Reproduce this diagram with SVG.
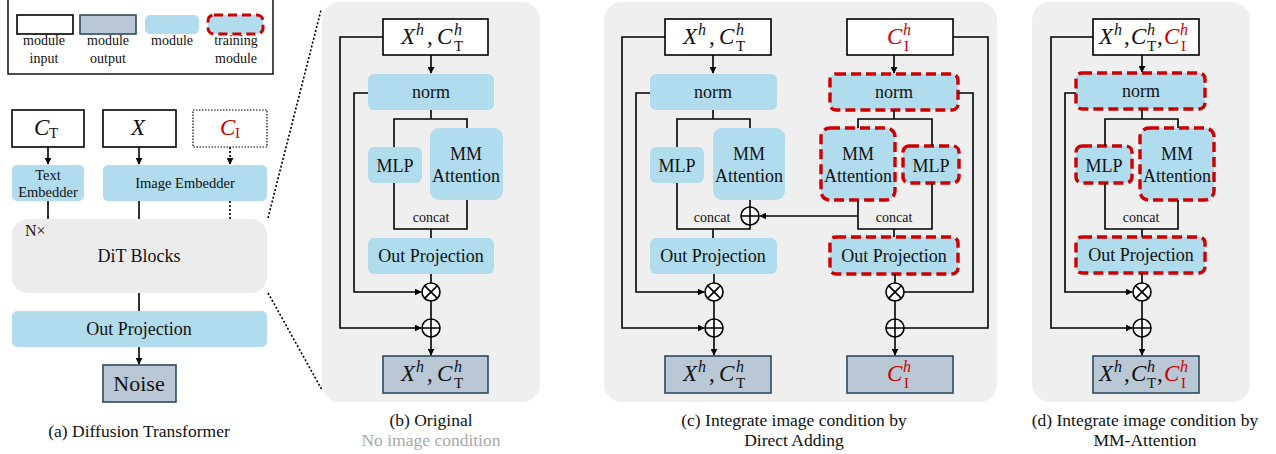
<svg xmlns="http://www.w3.org/2000/svg" width="1276" height="454" viewBox="0 0 1276 454" font-family="'Liberation Serif', 'Times New Roman', serif">
<defs>
<marker id="ah" viewBox="0 0 10 10" refX="9" refY="5" markerWidth="7" markerHeight="7" markerUnits="userSpaceOnUse" orient="auto"><path d="M0,0 L10,5 L0,10 z" fill="#000"/></marker>
<style>
.in{fill:#fff;stroke:#000;stroke-width:1.6}
.out{fill:#b9c8d4;stroke:#2c4a60;stroke-width:1.6}
.mod{fill:#b0dcee;stroke:none}
.tr{fill:#b0dcee;stroke:#cc0000;stroke-width:3.4;stroke-dasharray:10 5}
.bg{fill:#efefef}
.ln{fill:none;stroke:#000;stroke-width:1.6}
.ar{fill:none;stroke:#000;stroke-width:1.6;marker-end:url(#ah)}
.dot{fill:none;stroke:#000;stroke-width:1.6;stroke-dasharray:2 2}
.op{fill:#fff;stroke:#000;stroke-width:1.6}
.t16{font-size:18px;text-anchor:middle;fill:#111}
.t17{font-size:18px;text-anchor:middle;fill:#111}
.t13{font-size:14px;text-anchor:middle;fill:#111}
.t14{font-size:14.5px;text-anchor:middle;fill:#111}
.cap{font-size:17.5px;text-anchor:middle;fill:#111}
.m{font-size:23px;font-style:italic;fill:#111}
.s{font-size:16px}
.sub{font-size:15px;font-style:normal}
.rm{font-style:normal}
.red{fill:#cc0000}
</style>
</defs>

<!-- legend -->
<g id="legend">
<rect x="8" y="-2" width="265" height="76" fill="#fff" stroke="#000" stroke-width="1.4"/>
<rect class="in" x="17" y="15" width="56" height="19"/>
<rect class="out" x="80" y="15" width="56" height="19"/>
<rect class="mod" x="145" y="15" width="54" height="19" rx="5"/>
<rect class="tr" x="208" y="15" width="55" height="19" rx="6" style="stroke-width:3;stroke-dasharray:9 5"/>
<text class="t13" x="44" y="45">module</text>
<text class="t13" x="44" y="63">input</text>
<text class="t13" x="108" y="45">module</text>
<text class="t13" x="108" y="63">output</text>
<text class="t13" x="172" y="45">module</text>
<text class="t13" x="236" y="45">training</text>
<text class="t13" x="236" y="63">module</text>
</g>

<!-- panel a -->
<g id="a_ct"><rect class="in" x="12" y="110" width="72" height="37"/>
<text class="m" x="34" y="135">C<tspan class="sub" x="49" y="138">T</tspan></text></g>
<g id="a_x"><rect class="in" x="103" y="110" width="73" height="37"/>
<text class="m" x="131" y="135">X</text></g>
<g id="a_ci"><rect x="193" y="110" width="74" height="37" fill="#fff" stroke="#000" stroke-width="1.2" stroke-dasharray="1.5 1.5"/>
<text class="m red" x="220" y="135">C<tspan class="sub" x="235" y="138">I</tspan></text></g>
<g id="a_te"><rect class="mod" x="12" y="165" width="72" height="36" rx="5"/>
<text class="t14" x="48" y="180">Text</text><text class="t14" x="48" y="197">Embedder</text></g>
<g id="a_ie"><rect class="mod" x="103" y="165" width="164" height="36" rx="5"/>
<text class="t14" x="185" y="188">Image Embedder</text></g>
<g id="a_dit"><rect x="12" y="219" width="255" height="74" rx="16" fill="#ececec"/>
<text x="25" y="236" style="font-size:16px;fill:#111">N×</text>
<text class="t17" x="139" y="262">DiT Blocks</text></g>
<g id="a_op"><rect class="mod" x="12" y="311" width="255" height="36" rx="5"/>
<text class="t16" x="139" y="335">Out Projection</text></g>
<g id="a_noise"><rect class="out" x="103" y="365" width="73" height="37"/>
<text class="t17" x="139" y="391" style="font-size:22px">Noise</text></g>

<!-- panel b -->
<g id="b_bg"><rect class="bg" x="322" y="2" width="218" height="400" rx="18"/></g>
<g id="b_in"><rect class="in" x="383" y="19" width="105" height="36"/>
<text class="m" x="401" y="44">X<tspan class="s" x="416" y="35">h</tspan><tspan class="rm" x="427" y="44">,</tspan><tspan x="437" y="44">C</tspan><tspan class="s" x="454" y="35">h</tspan><tspan class="sub" x="454" y="51">T</tspan></text></g>
<g id="b_norm"><rect class="mod" x="368" y="74" width="126" height="36" rx="6"/><text class="t16" x="431" y="98">norm</text></g>
<g id="b_mlp"><rect class="mod" x="368" y="147" width="54" height="36" rx="6"/><text class="t17" x="395" y="172">MLP</text></g>
<g id="b_mma"><rect class="mod" x="430" y="128" width="73" height="72" rx="9"/><text class="t17" x="466" y="160">MM</text><text class="t17" x="466" y="182">Attention</text></g>
<g id="b_concat"><text class="t13" x="431" y="222">concat</text></g>
<g id="b_op"><rect class="mod" x="368" y="238" width="126" height="36" rx="6"/><text class="t16" x="431" y="262">Out Projection</text></g>
<g id="b_mul"><circle class="op" cx="431" cy="292" r="9"/><path class="ln" d="M424.6,285.6 L437.4,298.4 M437.4,285.6 L424.6,298.4"/></g>
<g id="b_add"><circle class="op" cx="431" cy="328" r="9"/><path class="ln" d="M422,328 H440 M431,319 V337"/></g>
<g id="b_out"><rect class="out" x="383" y="356" width="105" height="37"/>
<text class="m" x="401" y="381">X<tspan class="s" x="416" y="372">h</tspan><tspan class="rm" x="427" y="381">,</tspan><tspan x="437" y="381">C</tspan><tspan class="s" x="454" y="372">h</tspan><tspan class="sub" x="454" y="388">T</tspan></text></g>
<text class="cap" x="431" y="426">(b) Original</text>
<text class="cap" x="431" y="446" style="fill:#a8a8a8">No image condition</text>

<!-- panel c -->
<g id="c_bg"><rect class="bg" x="604" y="2" width="393" height="400" rx="18"/></g>
<g id="c_in"><rect class="in" x="665" y="19" width="106" height="36"/>
<text class="m" x="683" y="44">X<tspan class="s" x="698" y="35">h</tspan><tspan class="rm" x="709" y="44">,</tspan><tspan x="719" y="44">C</tspan><tspan class="s" x="736" y="35">h</tspan><tspan class="sub" x="736" y="51">T</tspan></text></g>
<g id="c_norm"><rect class="mod" x="650" y="74" width="127" height="36" rx="6"/><text class="t16" x="713" y="98">norm</text></g>
<g id="c_mlp"><rect class="mod" x="650" y="147" width="54" height="36" rx="6"/><text class="t17" x="677" y="172">MLP</text></g>
<g id="c_mma"><rect class="mod" x="713" y="128" width="72" height="72" rx="9"/><text class="t17" x="749" y="160">MM</text><text class="t17" x="749" y="182">Attention</text></g>
<g id="c_concat"><text class="t13" x="712" y="222">concat</text></g>
<g id="c_cadd"><circle class="op" cx="750" cy="216" r="9"/><path class="ln" d="M741,216 H759 M750,207 V225"/></g>
<g id="c_op"><rect class="mod" x="650" y="238" width="127" height="36" rx="6"/><text class="t16" x="713" y="262">Out Projection</text></g>
<g id="c_mul"><circle class="op" cx="714" cy="292" r="9"/><path class="ln" d="M707.6,285.6 L720.4,298.4 M720.4,285.6 L707.6,298.4"/></g>
<g id="c_add"><circle class="op" cx="714" cy="328" r="9"/><path class="ln" d="M705,328 H723 M714,319 V337"/></g>
<g id="c_out"><rect class="out" x="665" y="356" width="106" height="37"/>
<text class="m" x="683" y="381">X<tspan class="s" x="698" y="372">h</tspan><tspan class="rm" x="709" y="381">,</tspan><tspan x="719" y="381">C</tspan><tspan class="s" x="736" y="372">h</tspan><tspan class="sub" x="736" y="388">T</tspan></text></g>

<g id="c_ciin"><rect class="in" x="847" y="19" width="106" height="36"/>
<text class="m red" x="887" y="44">C<tspan class="s" x="903" y="35">h</tspan><tspan class="sub" x="904" y="51">I</tspan></text></g>
<g id="c_norm2"><rect class="tr" x="830" y="74" width="128" height="36" rx="6"/><text class="t16" x="894" y="98">norm</text></g>
<g id="c_mma2"><rect class="tr" x="821" y="128" width="74" height="72" rx="9"/><text class="t17" x="858" y="160">MM</text><text class="t17" x="858" y="182">Attention</text></g>
<g id="c_mlp2"><rect class="tr" x="903" y="146" width="56" height="37" rx="6"/><text class="t17" x="931" y="172">MLP</text></g>
<g id="c_concat2"><text class="t13" x="894" y="222">concat</text></g>
<g id="c_op2"><rect class="tr" x="830" y="237" width="128" height="37" rx="6"/><text class="t16" x="894" y="262">Out Projection</text></g>
<g id="c_mul2"><circle class="op" cx="895" cy="292" r="9"/><path class="ln" d="M888.6,285.6 L901.4,298.4 M901.4,285.6 L888.6,298.4"/></g>
<g id="c_add2"><circle class="op" cx="895" cy="328" r="9"/><path class="ln" d="M886,328 H904 M895,319 V337"/></g>
<g id="c_ciout"><rect class="out" x="847" y="356" width="106" height="37"/>
<text class="m red" x="887" y="381">C<tspan class="s" x="903" y="372">h</tspan><tspan class="sub" x="904" y="388">I</tspan></text></g>
<text class="cap" x="794" y="426">(c) Integrate image condition by</text>
<text class="cap" x="794" y="446">Direct Adding</text>

<!-- panel d -->
<g id="d_bg"><rect class="bg" x="1032" y="2" width="218" height="400" rx="18"/></g>
<g id="d_in"><rect class="in" x="1093" y="19" width="106" height="36"/>
<text class="m" x="1099" y="44">X<tspan class="s" x="1114" y="35">h</tspan><tspan class="rm" x="1124" y="44">,</tspan><tspan x="1131" y="44">C</tspan><tspan class="s" x="1147" y="35">h</tspan><tspan class="sub" x="1147" y="51">T</tspan><tspan class="rm" x="1157" y="44">,</tspan><tspan class="red" x="1164" y="44">C</tspan><tspan class="s red" x="1180" y="35">h</tspan><tspan class="sub red" x="1181" y="51">I</tspan></text></g>
<g id="d_norm"><rect class="tr" x="1076" y="73" width="129" height="36" rx="6"/><text class="t16" x="1141" y="97">norm</text></g>
<g id="d_mlp"><rect class="tr" x="1076" y="146" width="56" height="37" rx="6"/><text class="t17" x="1104" y="172">MLP</text></g>
<g id="d_mma"><rect class="tr" x="1140" y="128" width="74" height="72" rx="9"/><text class="t17" x="1177" y="160">MM</text><text class="t17" x="1177" y="182">Attention</text></g>
<g id="d_concat"><text class="t13" x="1141" y="222">concat</text></g>
<g id="d_op"><rect class="tr" x="1076" y="237" width="129" height="36" rx="6"/><text class="t16" x="1141" y="261">Out Projection</text></g>
<g id="d_mul"><circle class="op" cx="1142" cy="292" r="9"/><path class="ln" d="M1135.6,285.6 L1148.4,298.4 M1148.4,285.6 L1135.6,298.4"/></g>
<g id="d_add"><circle class="op" cx="1142" cy="328" r="9"/><path class="ln" d="M1133,328 H1151 M1142,319 V337"/></g>
<g id="d_out"><rect class="out" x="1093" y="356" width="106" height="37"/>
<text class="m" x="1099" y="381">X<tspan class="s" x="1114" y="372">h</tspan><tspan class="rm" x="1124" y="381">,</tspan><tspan x="1131" y="381">C</tspan><tspan class="s" x="1147" y="372">h</tspan><tspan class="sub" x="1147" y="388">T</tspan><tspan class="rm" x="1157" y="381">,</tspan><tspan class="red" x="1164" y="381">C</tspan><tspan class="s red" x="1180" y="372">h</tspan><tspan class="sub red" x="1181" y="388">I</tspan></text></g>
<text class="cap" x="1145" y="426">(d) Integrate image condition by</text>
<text class="cap" x="1145" y="446">MM-Attention</text>

<text class="cap" x="139" y="437">(a) Diffusion Transformer</text>

<g id="connectors">
<path class="dot" d="M268,218 L321,10 M268,293 L322,390"/>
<path class="ar" d="M48,147 V164"/>
<path class="ar" d="M139,147 V164"/>
<path class="dot" d="M230,147 V164" marker-end="url(#ah)"/>
<path class="ln" d="M48,201 V219 M139,201 V219 M139,293 V311"/>
<path class="dot" d="M230,201 V219"/>
<path class="ar" d="M139,347 V364"/>
<path class="ar" d="M431,55 V73"/>
<path class="ln" d="M431,110 V119 M394,147 V119 H467 V128 M394,183 V229 H467 V200 M431,229 V238 M431,274 V283 M431,301 V319"/>
<path class="ar" d="M431,337 V355"/>
<path class="ar" d="M383,37 H340 V328 H421"/>
<path class="ar" d="M368,93 H354 V292 H421"/>
<path class="ar" d="M713,55 V73"/>
<path class="ln" d="M713,110 V119 M677,147 V119 H750 V128 M677,183 V229 H750 V225 M750,200 V207 M713,229 V238 M714,274 V283 M714,301 V319"/>
<path class="ar" d="M714,337 V355"/>
<path class="ar" d="M665,37 H622 V328 H704"/>
<path class="ar" d="M650,93 H636 V292 H704"/>
<path class="ar" d="M894,55 V73"/>
<path class="ln" d="M894,110 V119 M858,128 V119 H932 V146 M858,200 V229 H932 V183 M894,229 V237 M895,274 V283 M895,301 V319"/>
<path class="ar" d="M858,216 H760"/>
<path class="ar" d="M895,337 V355"/>
<path class="ln" d="M953,37 H988 V328 H904"/>
<path class="ln" d="M958,93 H973 V292 H904"/>
<path class="ar" d="M1142,55 V72"/>
<path class="ln" d="M1142,109 V119 M1105,146 V119 H1178 V128 M1105,183 V229 H1178 V200 M1142,229 V237 M1142,273 V283 M1142,301 V319"/>
<path class="ar" d="M1142,337 V355"/>
<path class="ar" d="M1093,37 H1051 V328 H1132"/>
<path class="ar" d="M1076,93 H1065 V292 H1132"/>
</g>
</svg>
